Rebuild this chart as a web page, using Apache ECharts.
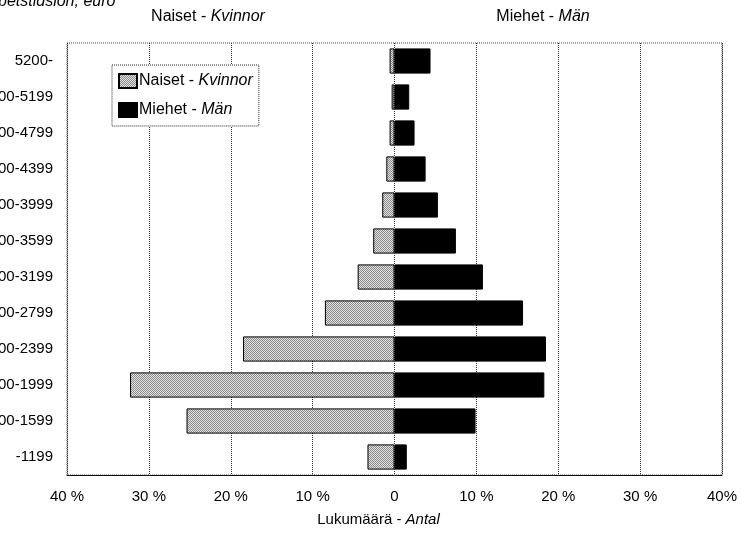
<!DOCTYPE html>
<html>
<head>
<meta charset="utf-8">
<script src="https://cdn.jsdelivr.net/npm/echarts@6/dist/echarts.min.js"></script>
<style>html,body{margin:0;padding:0;background:#fff;}#c{width:747px;height:533px;}</style>
</head>
<body>
<div id="c"></div>
<script>
const categories = ['5200-','4800-5199','4400-4799','4000-4399','3600-3999','3200-3599','2800-3199','2400-2799','2000-2399','1600-1999','1200-1599','-1199'];
const women = [0.6,0.35,0.6,1.0,1.5,2.6,4.5,8.5,18.5,32.3,25.4,3.3];
const men = [4.4,1.8,2.45,3.8,5.3,7.5,10.8,15.7,18.5,18.3,9.9,1.5];
const xTickValues = [-40,-30,-20,-10,0,10,20,30,40];
const xTickLabels = ['40 %','30 %','20 %','10 %','0','10 %','20 %','30 %','40%'];
const seriesNames = ['Naiset - Kvinnor','Miehet - Män'];

const font = 'Liberation Sans, Arial, Helvetica, sans-serif';

// stipple pattern for women bars
const pc = document.createElement('canvas');
pc.width = 2; pc.height = 2;
const pctx = pc.getContext('2d');
pctx.fillStyle = '#e2e2e2'; pctx.fillRect(0,0,2,2);
pctx.fillStyle = '#8a8a8a'; pctx.fillRect(0,0,1,1); pctx.fillRect(1,1,1,1);
const stipple = {image: pc, repeat: 'repeat'};

const chart = echarts.init(document.getElementById('c'), null, {renderer: 'canvas'});
const fmtName = n => { const p = n.split(' - '); return p[0] + ' - {i|' + p[1] + '}'; };
const ital = sz => ({i: {fontStyle: 'italic', fontSize: sz, fontFamily: font, color: '#000'}});

chart.setOption({
  animation: false,
  textStyle: {fontFamily: font},
  grid: {left: 67, right: 25, top: 43, bottom: 58, containLabel: false, outerBoundsMode: 'none',
         show: true, borderColor: '#444', borderWidth: 1, borderType: 'dotted'},
  legend: {
    orient: 'vertical', left: 112, top: 65,
    backgroundColor: '#fff', borderColor: '#222', borderWidth: 1, borderType: 'dotted',
    padding: [8, 6, 8, 6], itemGap: 13, itemWidth: 18, itemHeight: 14,
    icon: 'rect', data: seriesNames,
    formatter: fmtName,
    textStyle: {fontFamily: font, fontSize: 16, color: '#000', padding: [0,0,0,-3], rich: ital(16)}
  },
  xAxis: {
    type: 'value', min: -40, max: 40, interval: 10,
    name: 'Lukumäärä - {i|Antal}', nameLocation: 'middle', nameGap: 37,
    nameTextStyle: {fontSize: 15, color: '#000', fontFamily: font, padding: [0, 32, 0, 0], rich: ital(15)},
    axisLine: {show: true, onZero: false, lineStyle: {color: '#111', width: 1}},
    axisTick: {show: false},
    axisLabel: {fontSize: 15, color: '#000', margin: 14,
      formatter: v => xTickLabels[xTickValues.indexOf(v)]},
    splitLine: {show: true, lineStyle: {color: '#333', type: 'dotted', width: 1}}
  },
  yAxis: {
    type: 'category', data: categories, inverse: true,
    axisLine: {show: false}, axisTick: {show: false},
    axisLabel: {fontSize: 15, color: '#000', margin: 14},
    splitLine: {show: false}
  },
  series: [
    {name: seriesNames[0], type: 'bar', stack: 'a', barCategoryGap: '30%',
     data: women.map(v => -v),
     itemStyle: {color: stipple, borderColor: '#000', borderWidth: 1}},
    {name: seriesNames[1], type: 'bar', stack: 'a', barCategoryGap: '30%',
     data: men,
     itemStyle: {color: '#000', borderColor: '#000', borderWidth: 1}}
  ],
  graphic: [
    {type: 'text', left: -18, top: -6, style: {text: 'Arbetstidslön, euro', font: 'italic 16px ' + font, fill: '#000'}},
    {type: 'text', x: 208, y: 9, style: {text: 'Naiset - {i|Kvinnor}', align: 'center', fontSize: 16, fontFamily: font, fill: '#000', rich: ital(16)}},
    {type: 'text', x: 543, y: 9, style: {text: 'Miehet - {i|Män}', align: 'center', fontSize: 16, fontFamily: font, fill: '#000', rich: ital(16)}}
  ]
});
</script>
</body>
</html>
